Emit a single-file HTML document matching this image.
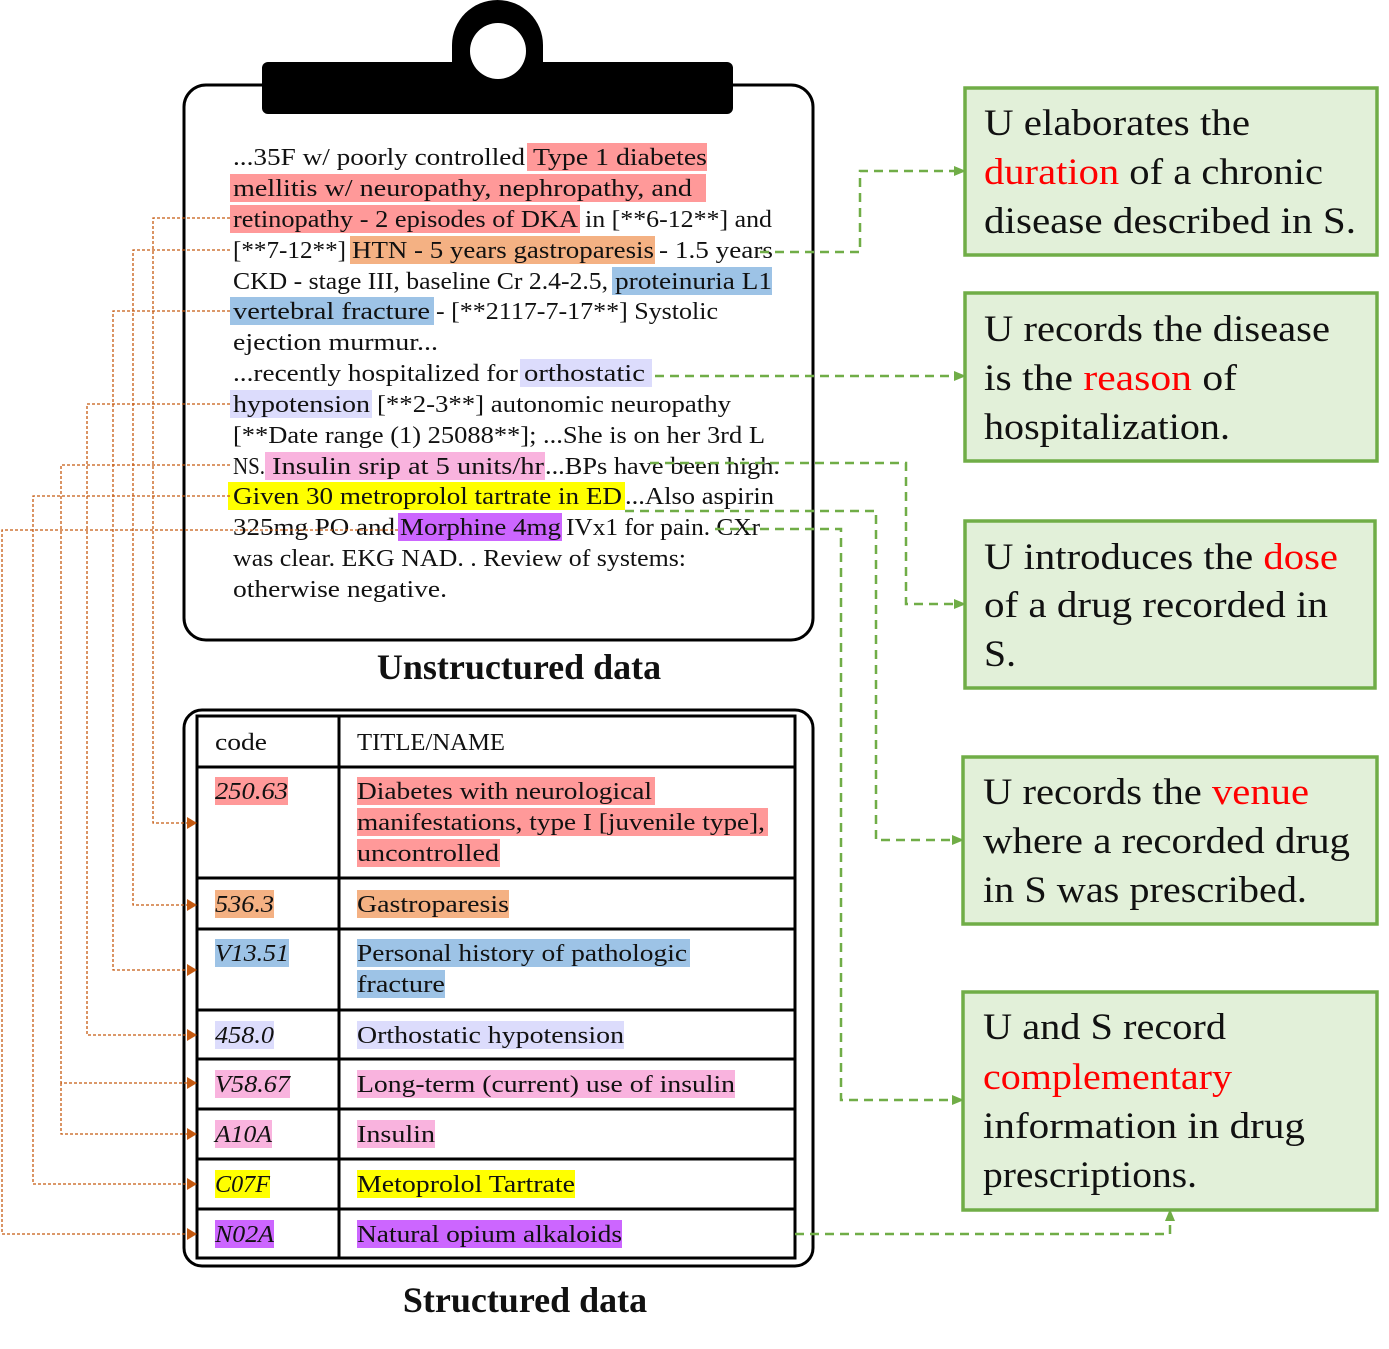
<!DOCTYPE html>
<html><head><meta charset="utf-8"><style>
html,body{margin:0;padding:0;background:#fff;}
svg{display:block;}
text{font-family:"Liberation Serif",serif;}
</style></head><body>
<svg width="1389" height="1349" viewBox="0 0 1389 1349" xmlns="http://www.w3.org/2000/svg">
<defs>
<marker id="ga" markerWidth="10" markerHeight="10" refX="9" refY="5" orient="auto" markerUnits="userSpaceOnUse"><path d="M0,0 L12,5 L0,10 z" fill="#70ad47"/></marker>
<marker id="oa" markerWidth="10" markerHeight="12" refX="9" refY="6" orient="auto" markerUnits="userSpaceOnUse"><path d="M0,0 L10,6 L0,12 z" fill="#c55a11"/></marker>
</defs>

<!-- clipboard -->
<rect x="184" y="85" width="629" height="555" rx="22" fill="#fff" stroke="#000" stroke-width="3"/>
<path d="M452,64 L452,45 A45.5,45 0 0 1 543,45 L543,64 z" fill="#000"/>
<rect x="262" y="62" width="471" height="52" rx="6" fill="#000"/>
<circle cx="498" cy="51" r="28" fill="#fff"/>

<!-- highlights -->
<g>
<rect x="527" y="143" width="180" height="28" fill="#ff9999"/>
<rect x="230" y="174" width="476" height="28" fill="#ff9999"/>
<rect x="230" y="205" width="350" height="28" fill="#ff9999"/>
<rect x="350" y="236" width="305" height="28" fill="#f4b183"/>
<rect x="612" y="267" width="160" height="28" fill="#9dc3e6"/>
<rect x="230" y="297" width="204" height="28" fill="#9dc3e6"/>
<rect x="520" y="359" width="132" height="28" fill="#dcdcfc"/>
<rect x="230" y="390" width="142" height="28" fill="#dcdcfc"/>
<rect x="265" y="452" width="280" height="28" fill="#f9b3de"/>
<rect x="228" y="482" width="397" height="28" fill="#ffff00"/>
<rect x="398" y="513" width="164" height="28" fill="#cc66ff"/>
</g>

<g font-size="24" fill="#111">
<text x="233" y="165" textLength="292" lengthAdjust="spacingAndGlyphs">...35F w/ poorly controlled</text>
<text x="533" y="165" textLength="174" lengthAdjust="spacingAndGlyphs">Type 1 diabetes</text>
<text x="233" y="196" textLength="459" lengthAdjust="spacingAndGlyphs">mellitis w/ neuropathy, nephropathy, and</text>
<text x="233" y="227" textLength="345" lengthAdjust="spacingAndGlyphs">retinopathy - 2 episodes of DKA</text>
<text x="585" y="227" textLength="187" lengthAdjust="spacingAndGlyphs">in [**6-12**] and</text>
<text x="233" y="258" textLength="113" lengthAdjust="spacingAndGlyphs">[**7-12**]</text>
<text x="352" y="258" textLength="302" lengthAdjust="spacingAndGlyphs">HTN - 5 years gastroparesis</text>
<text x="659" y="258" textLength="114" lengthAdjust="spacingAndGlyphs">- 1.5 years</text>
<text x="233" y="289" textLength="375" lengthAdjust="spacingAndGlyphs">CKD - stage III, baseline Cr 2.4-2.5,</text>
<text x="615" y="289" textLength="157" lengthAdjust="spacingAndGlyphs">proteinuria L1</text>
<text x="233" y="319" textLength="197" lengthAdjust="spacingAndGlyphs">vertebral fracture</text>
<text x="436" y="319" textLength="282" lengthAdjust="spacingAndGlyphs">- [**2117-7-17**] Systolic</text>
<text x="233" y="350" textLength="205" lengthAdjust="spacingAndGlyphs">ejection murmur...</text>
<text x="233" y="381" textLength="285" lengthAdjust="spacingAndGlyphs">...recently hospitalized for</text>
<text x="524" y="381" textLength="121" lengthAdjust="spacingAndGlyphs">orthostatic</text>
<text x="233" y="412" textLength="137" lengthAdjust="spacingAndGlyphs">hypotension</text>
<text x="377" y="412" textLength="354" lengthAdjust="spacingAndGlyphs">[**2-3**] autonomic neuropathy</text>
<text x="233" y="443" textLength="532" lengthAdjust="spacingAndGlyphs">[**Date range (1) 25088**]; ...She is on her 3rd L</text>
<text x="233" y="474" textLength="32" lengthAdjust="spacingAndGlyphs">NS.</text>
<text x="272" y="474" textLength="272" lengthAdjust="spacingAndGlyphs">Insulin srip at 5 units/hr</text>
<text x="545" y="474" textLength="235" lengthAdjust="spacingAndGlyphs">...BPs have been high.</text>
<text x="233" y="504" textLength="389" lengthAdjust="spacingAndGlyphs">Given 30 metroprolol tartrate in ED</text>
<text x="625" y="504" textLength="149" lengthAdjust="spacingAndGlyphs">...Also aspirin</text>
<text x="233" y="535" textLength="162" lengthAdjust="spacingAndGlyphs">325mg PO and</text>
<text x="400" y="535" textLength="161" lengthAdjust="spacingAndGlyphs">Morphine 4mg</text>
<text x="566" y="535" textLength="194" lengthAdjust="spacingAndGlyphs">IVx1 for pain. CXr</text>
<text x="233" y="566" textLength="453" lengthAdjust="spacingAndGlyphs">was clear.  EKG NAD. . Review of systems:</text>
<text x="233" y="597" textLength="214" lengthAdjust="spacingAndGlyphs">otherwise negative.</text>
</g>

<text x="519" y="679" font-size="36" font-weight="bold" text-anchor="middle" fill="#111">Unstructured data</text>
<text x="525" y="1312" font-size="36" font-weight="bold" text-anchor="middle" fill="#111">Structured data</text>

<!-- table -->
<rect x="184" y="710" width="629" height="556" rx="18" fill="#fff" stroke="#000" stroke-width="3"/>
<g stroke="#000" stroke-width="3" fill="none">
<rect x="197" y="716" width="598" height="542"/>
<line x1="339" y1="716" x2="339" y2="1258"/>
<line x1="197" y1="767" x2="795" y2="767"/>
<line x1="197" y1="878" x2="795" y2="878"/>
<line x1="197" y1="929" x2="795" y2="929"/>
<line x1="197" y1="1010" x2="795" y2="1010"/>
<line x1="197" y1="1059" x2="795" y2="1059"/>
<line x1="197" y1="1109" x2="795" y2="1109"/>
<line x1="197" y1="1159" x2="795" y2="1159"/>
<line x1="197" y1="1209" x2="795" y2="1209"/>
</g>
<g>
<rect x="215" y="777" width="73" height="28" fill="#ff9999"/>
<rect x="357" y="777" width="298" height="28" fill="#ff9999"/>
<rect x="357" y="808" width="411" height="28" fill="#ff9999"/>
<rect x="357" y="839" width="143" height="28" fill="#ff9999"/>
<rect x="215" y="890" width="59" height="28" fill="#f4b183"/>
<rect x="357" y="890" width="152" height="28" fill="#f4b183"/>
<rect x="215" y="939" width="74" height="28" fill="#9dc3e6"/>
<rect x="357" y="939" width="333" height="28" fill="#9dc3e6"/>
<rect x="357" y="970" width="88" height="28" fill="#9dc3e6"/>
<rect x="215" y="1021" width="59" height="28" fill="#dcdcfc"/>
<rect x="357" y="1021" width="267" height="28" fill="#dcdcfc"/>
<rect x="215" y="1070" width="75" height="28" fill="#f9b3de"/>
<rect x="357" y="1070" width="378" height="28" fill="#f9b3de"/>
<rect x="215" y="1120" width="57" height="28" fill="#f9b3de"/>
<rect x="357" y="1120" width="78" height="28" fill="#f9b3de"/>
<rect x="215" y="1170" width="55" height="28" fill="#ffff00"/>
<rect x="357" y="1170" width="218" height="28" fill="#ffff00"/>
<rect x="215" y="1220" width="59" height="28" fill="#cc66ff"/>
<rect x="357" y="1220" width="265" height="28" fill="#cc66ff"/>
</g>
<g font-size="24" fill="#111">
<text x="215" y="750" textLength="52" lengthAdjust="spacingAndGlyphs">code</text>
<text x="357" y="750" textLength="148" lengthAdjust="spacingAndGlyphs">TITLE/NAME</text>
<g font-style="italic">
<text x="215" y="799" textLength="73" lengthAdjust="spacingAndGlyphs">250.63</text>
<text x="215" y="912" textLength="59" lengthAdjust="spacingAndGlyphs">536.3</text>
<text x="215" y="961" textLength="74" lengthAdjust="spacingAndGlyphs">V13.51</text>
<text x="215" y="1043" textLength="59" lengthAdjust="spacingAndGlyphs">458.0</text>
<text x="215" y="1092" textLength="75" lengthAdjust="spacingAndGlyphs">V58.67</text>
<text x="215" y="1142" textLength="57" lengthAdjust="spacingAndGlyphs">A10A</text>
<text x="215" y="1192" textLength="55" lengthAdjust="spacingAndGlyphs">C07F</text>
<text x="215" y="1242" textLength="59" lengthAdjust="spacingAndGlyphs">N02A</text>
</g>
<text x="357" y="799" textLength="295" lengthAdjust="spacingAndGlyphs">Diabetes with neurological</text>
<text x="357" y="830" textLength="408" lengthAdjust="spacingAndGlyphs">manifestations, type I [juvenile type],</text>
<text x="357" y="861" textLength="142" lengthAdjust="spacingAndGlyphs">uncontrolled</text>
<text x="357" y="912" textLength="152" lengthAdjust="spacingAndGlyphs">Gastroparesis</text>
<text x="357" y="961" textLength="330" lengthAdjust="spacingAndGlyphs">Personal history of pathologic</text>
<text x="357" y="992" textLength="88" lengthAdjust="spacingAndGlyphs">fracture</text>
<text x="357" y="1043" textLength="267" lengthAdjust="spacingAndGlyphs">Orthostatic hypotension</text>
<text x="357" y="1092" textLength="378" lengthAdjust="spacingAndGlyphs">Long-term (current) use of insulin</text>
<text x="357" y="1142" textLength="78" lengthAdjust="spacingAndGlyphs">Insulin</text>
<text x="357" y="1192" textLength="218" lengthAdjust="spacingAndGlyphs">Metoprolol Tartrate</text>
<text x="357" y="1242" textLength="265" lengthAdjust="spacingAndGlyphs">Natural opium alkaloids</text>
</g>

<!-- orange connectors -->
<g stroke="#c55a11" stroke-width="1.3" stroke-dasharray="3,2" fill="none" marker-end="url(#oa)">
<path d="M230,218 H153 V823 H196"/>
<path d="M230,250 H133 V905 H196"/>
<path d="M230,311 H113 V970 H196"/>
<path d="M230,404 H87 V1035 H196"/>
<path d="M230,465 H61 V1083 H196"/>
<path d="M61,1083 V1134 H196"/>
<path d="M230,496 H33 V1184 H196"/>
<path d="M398,530 H2 V1234 H196"/>
</g>

<!-- right boxes -->
<g fill="#e2f0d9" stroke="#70ad47" stroke-width="3.5">
<rect x="965" y="88" width="412" height="167"/>
<rect x="965" y="293" width="412" height="168"/>
<rect x="965" y="521" width="410" height="167"/>
<rect x="963" y="757" width="414" height="167"/>
<rect x="963" y="992" width="414" height="218"/>
</g>
<g font-size="37" fill="#111">
<text x="984" y="135" textLength="266" lengthAdjust="spacingAndGlyphs">U elaborates the</text>
<text x="984" y="184" textLength="339" lengthAdjust="spacingAndGlyphs"><tspan fill="#ff0000">duration</tspan> of a chronic</text>
<text x="984" y="233" textLength="372" lengthAdjust="spacingAndGlyphs">disease described in S.</text>
<text x="984" y="341" textLength="346" lengthAdjust="spacingAndGlyphs">U records the disease</text>
<text x="984" y="390" textLength="253" lengthAdjust="spacingAndGlyphs">is the <tspan fill="#ff0000">reason</tspan> of</text>
<text x="984" y="439" textLength="246" lengthAdjust="spacingAndGlyphs">hospitalization.</text>
<text x="984" y="569" textLength="354" lengthAdjust="spacingAndGlyphs">U introduces the <tspan fill="#ff0000">dose</tspan></text>
<text x="984" y="617" textLength="344" lengthAdjust="spacingAndGlyphs">of a drug recorded in</text>
<text x="984" y="666" textLength="32" lengthAdjust="spacingAndGlyphs">S.</text>
<text x="983" y="804" textLength="326" lengthAdjust="spacingAndGlyphs">U records the <tspan fill="#ff0000">venue</tspan></text>
<text x="983" y="853" textLength="367" lengthAdjust="spacingAndGlyphs">where a recorded drug</text>
<text x="983" y="902" textLength="324" lengthAdjust="spacingAndGlyphs">in S was prescribed.</text>
<text x="983" y="1039" textLength="243" lengthAdjust="spacingAndGlyphs">U and S record</text>
<text x="983" y="1089" textLength="249" lengthAdjust="spacingAndGlyphs" fill="#ff0000">complementary</text>
<text x="983" y="1138" textLength="322" lengthAdjust="spacingAndGlyphs">information in drug</text>
<text x="983" y="1187" textLength="214" lengthAdjust="spacingAndGlyphs">prescriptions.</text>
</g>

<!-- green connectors -->
<g stroke="#70ad47" stroke-width="2.5" stroke-dasharray="9,6" fill="none" marker-end="url(#ga)">
<path d="M760,252 H860 V171 H963"/>
<path d="M655,376 H963"/>
<path d="M650,463 H906 V604 H963"/>
<path d="M625,511 H876 V840 H961"/>
<path d="M715,529 H841 V1100 H961"/>
<path d="M795,1234 H1170 V1212"/>
</g>
</svg>
</body></html>
